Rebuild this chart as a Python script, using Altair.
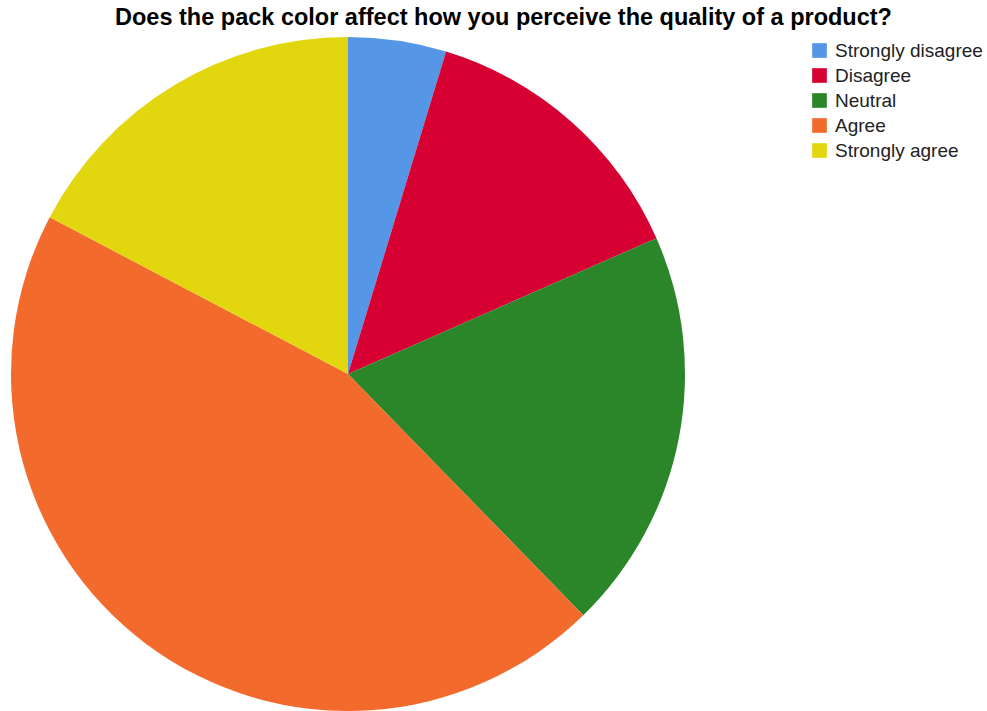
import altair as alt
import pandas as pd

categories = ["Strongly disagree", "Disagree", "Neutral", "Agree", "Strongly agree"]
values = [4.7, 13.7, 19.3, 45.0, 17.3]
colors = ["#5596E6", "#D60032", "#2A8629", "#F36A2D", "#E2D60F"]

df = pd.DataFrame({"answer": categories, "value": values, "order": list(range(len(categories)))})

chart = alt.Chart(df).mark_arc(outerRadius=337, stroke=None).encode(
    theta=alt.Theta("value:Q", stack=True),
    order=alt.Order("order:Q"),
    x=alt.value(348),
    y=alt.value(374),
    color=alt.Color(
        "answer:N",
        sort=categories,
        scale=alt.Scale(domain=categories, range=colors),
        legend=alt.Legend(
            title=None,
            orient="none",
            legendX=810,
            legendY=41,
            labelFontSize=19,
            labelFont="Liberation Sans",
            labelColor="#222222",
            symbolType="square",
            symbolSize=215,
            symbolStrokeWidth=0,
            rowPadding=5,
            labelOffset=6,
            labelLimit=300,
        ),
    ),
).properties(
    width=987,
    height=711,
    title=alt.TitleParams(
        "Does the pack color affect how you perceive the quality of a product?",
        font="Liberation Sans",
        fontSize=23.5,
        fontWeight="bold",
        color="#000000",
        anchor="middle",
        dx=10,
        offset=-29,
    ),
    autosize=alt.AutoSizeParams(type="none"),
    padding=0,
).configure_view(stroke=None)

chart.save("out.html", embed_options={"renderer": "svg", "actions": False})
